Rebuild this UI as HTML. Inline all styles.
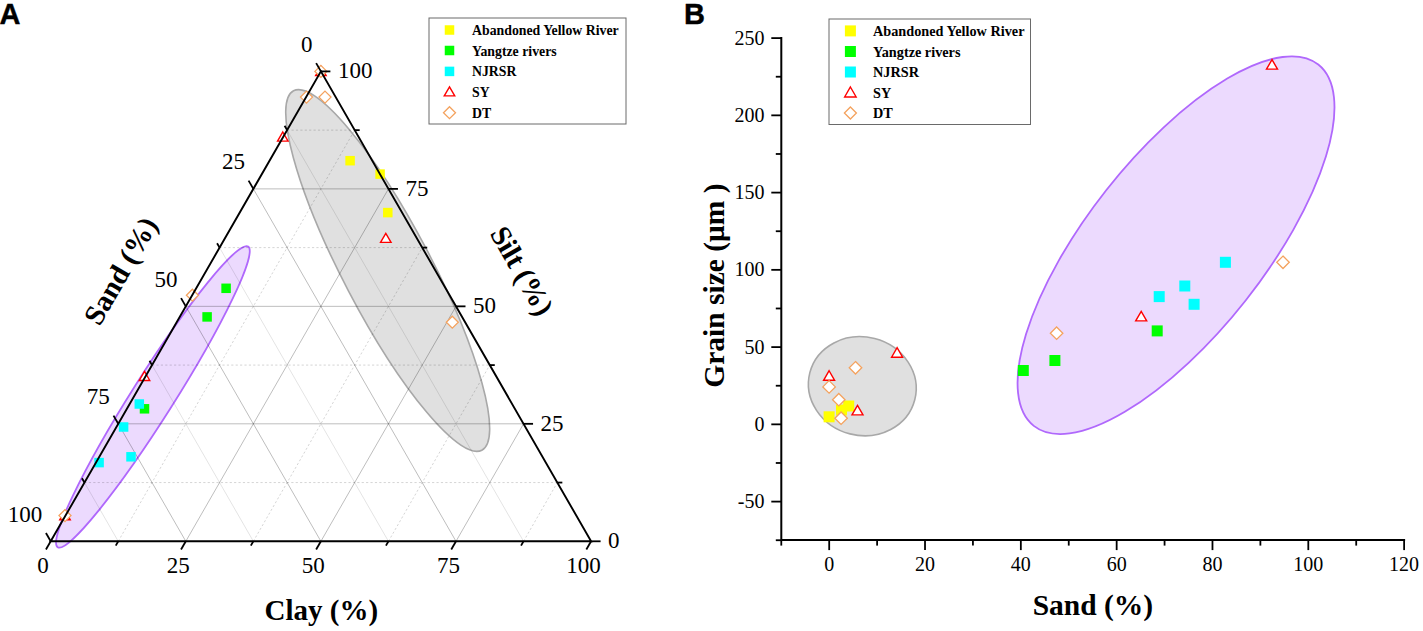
<!DOCTYPE html><html><head><meta charset="utf-8"><style>html,body{margin:0;padding:0;background:#fff;width:1423px;height:631px;overflow:hidden} svg{display:block} text{font-family:"Liberation Serif",serif}</style></head><body>
<svg width="1423" height="631" viewBox="0 0 1423 631">
<rect width="1423" height="631" fill="#fff"/>
<ellipse cx="387.7" cy="270.5" rx="202.85" ry="44.2" transform="rotate(62.34 387.7 270.5)" fill="#e0e0e0" stroke="#a8a8a8" stroke-width="1.6"/>
<ellipse cx="152.91" cy="396.87" rx="178.02" ry="20.99" transform="rotate(-57.67 152.91 396.87)" fill="#ecdafe" stroke="#b068fc" stroke-width="1.8"/>
<line x1="84.47" y1="482.56" x2="557.33" y2="482.56" stroke="rgba(0,0,0,0.17)" stroke-width="1" stroke-dasharray="2.2 2.2"/><line x1="118.25" y1="541.30" x2="354.67" y2="130.14" stroke="rgba(0,0,0,0.17)" stroke-width="1" stroke-dasharray="2.2 2.2"/><line x1="287.12" y1="130.14" x2="523.55" y2="541.30" stroke="rgba(0,0,0,0.11)" stroke-width="1"/>
<line x1="152.02" y1="365.09" x2="489.77" y2="365.09" stroke="rgba(0,0,0,0.17)" stroke-width="1" stroke-dasharray="2.2 2.2"/><line x1="253.35" y1="541.30" x2="422.23" y2="247.61" stroke="rgba(0,0,0,0.17)" stroke-width="1" stroke-dasharray="2.2 2.2"/><line x1="219.57" y1="247.61" x2="388.45" y2="541.30" stroke="rgba(0,0,0,0.11)" stroke-width="1"/>
<line x1="219.57" y1="247.61" x2="422.23" y2="247.61" stroke="rgba(0,0,0,0.17)" stroke-width="1" stroke-dasharray="2.2 2.2"/><line x1="388.45" y1="541.30" x2="489.77" y2="365.09" stroke="rgba(0,0,0,0.17)" stroke-width="1" stroke-dasharray="2.2 2.2"/><line x1="152.02" y1="365.09" x2="253.35" y2="541.30" stroke="rgba(0,0,0,0.11)" stroke-width="1"/>
<line x1="287.12" y1="130.14" x2="354.67" y2="130.14" stroke="rgba(0,0,0,0.17)" stroke-width="1" stroke-dasharray="2.2 2.2"/><line x1="523.55" y1="541.30" x2="557.33" y2="482.56" stroke="rgba(0,0,0,0.17)" stroke-width="1" stroke-dasharray="2.2 2.2"/><line x1="84.47" y1="482.56" x2="118.25" y2="541.30" stroke="rgba(0,0,0,0.11)" stroke-width="1"/>
<line x1="118.25" y1="423.82" x2="523.55" y2="423.82" stroke="rgba(0,0,0,0.26)" stroke-width="1"/><line x1="185.80" y1="541.30" x2="388.45" y2="188.88" stroke="rgba(0,0,0,0.26)" stroke-width="1"/><line x1="253.35" y1="188.88" x2="456.00" y2="541.30" stroke="rgba(0,0,0,0.26)" stroke-width="1"/>
<line x1="185.80" y1="306.35" x2="456.00" y2="306.35" stroke="rgba(0,0,0,0.26)" stroke-width="1"/><line x1="320.90" y1="541.30" x2="456.00" y2="306.35" stroke="rgba(0,0,0,0.26)" stroke-width="1"/><line x1="185.80" y1="306.35" x2="320.90" y2="541.30" stroke="rgba(0,0,0,0.26)" stroke-width="1"/>
<line x1="253.35" y1="188.88" x2="388.45" y2="188.88" stroke="rgba(0,0,0,0.26)" stroke-width="1"/><line x1="456.00" y1="541.30" x2="523.55" y2="423.82" stroke="rgba(0,0,0,0.26)" stroke-width="1"/><line x1="118.25" y1="423.82" x2="185.80" y2="541.30" stroke="rgba(0,0,0,0.26)" stroke-width="1"/>
<rect x="345.35" y="155.95" width="9.50" height="9.50" fill="#ffff00"/>
<rect x="375.35" y="169.35" width="9.50" height="9.50" fill="#ffff00"/>
<rect x="383.05" y="207.85" width="9.50" height="9.50" fill="#ffff00"/>
<rect x="221.35" y="283.55" width="9.50" height="9.50" fill="#00ff00"/>
<rect x="202.35" y="312.15" width="9.50" height="9.50" fill="#00ff00"/>
<rect x="139.75" y="404.05" width="9.50" height="9.50" fill="#00ff00"/>
<rect x="134.55" y="399.25" width="9.50" height="9.50" fill="#00ffff"/>
<rect x="118.85" y="422.25" width="9.50" height="9.50" fill="#00ffff"/>
<rect x="94.35" y="457.85" width="9.50" height="9.50" fill="#00ffff"/>
<rect x="126.25" y="452.05" width="9.50" height="9.50" fill="#00ffff"/>
<path d="M320.90 66.40 L326.15 75.49 L315.65 75.49 Z" fill="#fff" stroke="#ff0000" stroke-width="1.4" stroke-linejoin="miter"/>
<path d="M282.80 132.00 L288.05 141.09 L277.55 141.09 Z" fill="#fff" stroke="#ff0000" stroke-width="1.4" stroke-linejoin="miter"/>
<path d="M385.80 233.30 L391.05 242.39 L380.55 242.39 Z" fill="#fff" stroke="#ff0000" stroke-width="1.4" stroke-linejoin="miter"/>
<path d="M144.50 371.40 L149.75 380.49 L139.25 380.49 Z" fill="#fff" stroke="#ff0000" stroke-width="1.4" stroke-linejoin="miter"/>
<path d="M65.00 510.60 L70.25 519.69 L59.75 519.69 Z" fill="#fff" stroke="#ff0000" stroke-width="1.4" stroke-linejoin="miter"/>
<path d="M320.90 65.40 L326.90 71.40 L320.90 77.40 L314.90 71.40 Z" fill="#fff" stroke="#f4a25e" stroke-width="1.3"/>
<path d="M306.50 91.10 L312.50 97.10 L306.50 103.10 L300.50 97.10 Z" fill="#fff" stroke="#f4a25e" stroke-width="1.3"/>
<path d="M325.00 91.10 L331.00 97.10 L325.00 103.10 L319.00 97.10 Z" fill="#fff" stroke="#f4a25e" stroke-width="1.3"/>
<path d="M192.40 289.20 L198.40 295.20 L192.40 301.20 L186.40 295.20 Z" fill="#fff" stroke="#f4a25e" stroke-width="1.3"/>
<path d="M452.30 316.20 L458.30 322.20 L452.30 328.20 L446.30 322.20 Z" fill="#fff" stroke="#f4a25e" stroke-width="1.3"/>
<path d="M65.00 509.60 L71.00 515.60 L65.00 521.60 L59.00 515.60 Z" fill="#fff" stroke="#f4a25e" stroke-width="1.3"/>
<path d="M50.70 541.30 L320.90 71.40 L591.10 541.30 Z" fill="none" stroke="#000" stroke-width="1.9" stroke-linejoin="miter"/>
<line x1="50.70" y1="541.30" x2="45.95" y2="549.53" stroke="#000" stroke-width="1.8"/>
<line x1="320.90" y1="71.40" x2="316.15" y2="63.17" stroke="#000" stroke-width="1.8"/>
<line x1="591.10" y1="541.30" x2="600.60" y2="541.30" stroke="#000" stroke-width="1.8"/>
<line x1="118.25" y1="541.30" x2="115.75" y2="545.63" stroke="#000" stroke-width="1.8"/>
<line x1="287.12" y1="130.14" x2="284.62" y2="125.81" stroke="#000" stroke-width="1.8"/>
<line x1="557.33" y1="482.56" x2="562.33" y2="482.56" stroke="#000" stroke-width="1.8"/>
<line x1="185.80" y1="541.30" x2="181.05" y2="549.53" stroke="#000" stroke-width="1.8"/>
<line x1="253.35" y1="188.88" x2="248.60" y2="180.65" stroke="#000" stroke-width="1.8"/>
<line x1="523.55" y1="423.82" x2="533.05" y2="423.82" stroke="#000" stroke-width="1.8"/>
<line x1="253.35" y1="541.30" x2="250.85" y2="545.63" stroke="#000" stroke-width="1.8"/>
<line x1="219.57" y1="247.61" x2="217.07" y2="243.28" stroke="#000" stroke-width="1.8"/>
<line x1="489.77" y1="365.09" x2="494.77" y2="365.09" stroke="#000" stroke-width="1.8"/>
<line x1="320.90" y1="541.30" x2="316.15" y2="549.53" stroke="#000" stroke-width="1.8"/>
<line x1="185.80" y1="306.35" x2="181.05" y2="298.12" stroke="#000" stroke-width="1.8"/>
<line x1="456.00" y1="306.35" x2="465.50" y2="306.35" stroke="#000" stroke-width="1.8"/>
<line x1="388.45" y1="541.30" x2="385.95" y2="545.63" stroke="#000" stroke-width="1.8"/>
<line x1="152.02" y1="365.09" x2="149.52" y2="360.76" stroke="#000" stroke-width="1.8"/>
<line x1="422.23" y1="247.61" x2="427.23" y2="247.61" stroke="#000" stroke-width="1.8"/>
<line x1="456.00" y1="541.30" x2="451.25" y2="549.53" stroke="#000" stroke-width="1.8"/>
<line x1="118.25" y1="423.82" x2="113.50" y2="415.60" stroke="#000" stroke-width="1.8"/>
<line x1="388.45" y1="188.88" x2="397.95" y2="188.88" stroke="#000" stroke-width="1.8"/>
<line x1="523.55" y1="541.30" x2="521.05" y2="545.63" stroke="#000" stroke-width="1.8"/>
<line x1="84.47" y1="482.56" x2="81.97" y2="478.23" stroke="#000" stroke-width="1.8"/>
<line x1="354.67" y1="130.14" x2="359.67" y2="130.14" stroke="#000" stroke-width="1.8"/>
<line x1="591.10" y1="541.30" x2="586.35" y2="549.53" stroke="#000" stroke-width="1.8"/>
<line x1="50.70" y1="541.30" x2="45.95" y2="533.07" stroke="#000" stroke-width="1.8"/>
<line x1="320.90" y1="71.40" x2="330.40" y2="71.40" stroke="#000" stroke-width="1.8"/>
<text x="43.10" y="572.80" font-size="23" text-anchor="middle">0</text>
<text x="312.50" y="51.90" font-size="23" text-anchor="end">0</text>
<text x="608.10" y="548.10" font-size="23" text-anchor="start">0</text>
<text x="178.20" y="572.80" font-size="23" text-anchor="middle">25</text>
<text x="244.95" y="169.38" font-size="23" text-anchor="end">25</text>
<text x="540.55" y="430.62" font-size="23" text-anchor="start">25</text>
<text x="313.30" y="572.80" font-size="23" text-anchor="middle">50</text>
<text x="177.40" y="286.85" font-size="23" text-anchor="end">50</text>
<text x="473.00" y="313.15" font-size="23" text-anchor="start">50</text>
<text x="448.40" y="572.80" font-size="23" text-anchor="middle">75</text>
<text x="109.85" y="404.32" font-size="23" text-anchor="end">75</text>
<text x="405.45" y="195.68" font-size="23" text-anchor="start">75</text>
<text x="583.50" y="572.80" font-size="23" text-anchor="middle">100</text>
<text x="42.30" y="521.80" font-size="23" text-anchor="end">100</text>
<text x="337.90" y="78.20" font-size="23" text-anchor="start">100</text>
<text x="321.3" y="620" font-size="29" font-weight="bold" text-anchor="middle">Clay (%)</text>
<g transform="translate(120.4 270.65) rotate(-60)"><text x="0" y="10" font-size="29" font-weight="bold" text-anchor="middle">Sand (%)</text></g>
<g transform="translate(522.2 270.6) rotate(60)"><text x="0" y="10" font-size="29" font-weight="bold" text-anchor="middle">Silt (%)</text></g>
<text x="-0.5" y="23.7" font-size="29" font-weight="bold" stroke="#000" stroke-width="0.4" style="font-family:'Liberation Sans',sans-serif">A</text>
<text x="684" y="23.7" font-size="29" font-weight="bold" stroke="#000" stroke-width="0.4" style="font-family:'Liberation Sans',sans-serif">B</text>
<rect x="429.00" y="18.00" width="197.00" height="106.00" fill="#fff" stroke="#6a6a6a" stroke-width="1"/><rect x="444.75" y="25.25" width="9.50" height="9.50" fill="#ffff00"/><text x="472.00" y="35.00" font-size="13.8" font-weight="bold">Abandoned Yellow River</text><rect x="444.75" y="45.75" width="9.50" height="9.50" fill="#00ff00"/><text x="472.00" y="55.50" font-size="13.8" font-weight="bold">Yangtze rivers</text><rect x="444.75" y="66.65" width="9.50" height="9.50" fill="#00ffff"/><text x="472.00" y="76.40" font-size="13.8" font-weight="bold">NJRSR</text><path d="M449.50 86.80 L454.75 95.89 L444.25 95.89 Z" fill="#fff" stroke="#ff0000" stroke-width="1.4" stroke-linejoin="miter"/><text x="472.00" y="96.80" font-size="13.8" font-weight="bold">SY</text><path d="M449.50 106.70 L455.50 112.70 L449.50 118.70 L443.50 112.70 Z" fill="#fff" stroke="#f4a25e" stroke-width="1.3"/><text x="472.00" y="117.70" font-size="13.8" font-weight="bold">DT</text>
<rect x="829.00" y="19.00" width="201.50" height="105.50" fill="#fff" stroke="#6a6a6a" stroke-width="1"/><rect x="844.90" y="25.40" width="11.00" height="11.00" fill="#ffff00"/><text x="873.00" y="35.90" font-size="14.25" font-weight="bold">Abandoned Yellow River</text><rect x="844.90" y="46.00" width="11.00" height="11.00" fill="#00ff00"/><text x="873.00" y="56.50" font-size="14.25" font-weight="bold">Yangtze rivers</text><rect x="844.90" y="66.50" width="11.00" height="11.00" fill="#00ffff"/><text x="873.00" y="77.00" font-size="14.25" font-weight="bold">NJRSR</text><path d="M850.40 87.02 L856.15 96.98 L844.65 96.98 Z" fill="#fff" stroke="#ff0000" stroke-width="1.4" stroke-linejoin="miter"/><text x="873.00" y="97.50" font-size="14.25" font-weight="bold">SY</text><path d="M850.40 107.00 L856.40 113.00 L850.40 119.00 L844.40 113.00 Z" fill="#fff" stroke="#f4a25e" stroke-width="1.3"/><text x="873.00" y="118.00" font-size="14.25" font-weight="bold">DT</text>
<line x1="781.3" y1="540.1" x2="1405.1200000000001" y2="540.1" stroke="#000" stroke-width="2"/>
<line x1="781.3" y1="37.10000000000002" x2="781.3" y2="541.1" stroke="#000" stroke-width="2"/>
<line x1="781.29" y1="540.1" x2="781.29" y2="545.60" stroke="#000" stroke-width="1.8"/>
<line x1="829.20" y1="540.1" x2="829.20" y2="550.10" stroke="#000" stroke-width="1.8"/>
<text x="829.20" y="571.40" font-size="20" text-anchor="middle">0</text>
<line x1="877.11" y1="540.1" x2="877.11" y2="545.60" stroke="#000" stroke-width="1.8"/>
<line x1="925.02" y1="540.1" x2="925.02" y2="550.10" stroke="#000" stroke-width="1.8"/>
<text x="925.02" y="571.40" font-size="20" text-anchor="middle">20</text>
<line x1="972.93" y1="540.1" x2="972.93" y2="545.60" stroke="#000" stroke-width="1.8"/>
<line x1="1020.84" y1="540.1" x2="1020.84" y2="550.10" stroke="#000" stroke-width="1.8"/>
<text x="1020.84" y="571.40" font-size="20" text-anchor="middle">40</text>
<line x1="1068.75" y1="540.1" x2="1068.75" y2="545.60" stroke="#000" stroke-width="1.8"/>
<line x1="1116.66" y1="540.1" x2="1116.66" y2="550.10" stroke="#000" stroke-width="1.8"/>
<text x="1116.66" y="571.40" font-size="20" text-anchor="middle">60</text>
<line x1="1164.57" y1="540.1" x2="1164.57" y2="545.60" stroke="#000" stroke-width="1.8"/>
<line x1="1212.48" y1="540.1" x2="1212.48" y2="550.10" stroke="#000" stroke-width="1.8"/>
<text x="1212.48" y="571.40" font-size="20" text-anchor="middle">80</text>
<line x1="1260.39" y1="540.1" x2="1260.39" y2="545.60" stroke="#000" stroke-width="1.8"/>
<line x1="1308.30" y1="540.1" x2="1308.30" y2="550.10" stroke="#000" stroke-width="1.8"/>
<text x="1308.30" y="571.40" font-size="20" text-anchor="middle">100</text>
<line x1="1356.21" y1="540.1" x2="1356.21" y2="545.60" stroke="#000" stroke-width="1.8"/>
<line x1="1404.12" y1="540.1" x2="1404.12" y2="550.10" stroke="#000" stroke-width="1.8"/>
<text x="1404.12" y="571.40" font-size="20" text-anchor="middle">120</text>
<line x1="781.3" y1="540.23" x2="775.80" y2="540.23" stroke="#000" stroke-width="1.8"/>
<line x1="781.3" y1="501.60" x2="771.30" y2="501.60" stroke="#000" stroke-width="1.8"/>
<text x="764.5" y="508.00" font-size="20" text-anchor="end">-50</text>
<line x1="781.3" y1="462.98" x2="775.80" y2="462.98" stroke="#000" stroke-width="1.8"/>
<line x1="781.3" y1="424.35" x2="771.30" y2="424.35" stroke="#000" stroke-width="1.8"/>
<text x="764.5" y="430.75" font-size="20" text-anchor="end">0</text>
<line x1="781.3" y1="385.73" x2="775.80" y2="385.73" stroke="#000" stroke-width="1.8"/>
<line x1="781.3" y1="347.10" x2="771.30" y2="347.10" stroke="#000" stroke-width="1.8"/>
<text x="764.5" y="353.50" font-size="20" text-anchor="end">50</text>
<line x1="781.3" y1="308.48" x2="775.80" y2="308.48" stroke="#000" stroke-width="1.8"/>
<line x1="781.3" y1="269.85" x2="771.30" y2="269.85" stroke="#000" stroke-width="1.8"/>
<text x="764.5" y="276.25" font-size="20" text-anchor="end">100</text>
<line x1="781.3" y1="231.23" x2="775.80" y2="231.23" stroke="#000" stroke-width="1.8"/>
<line x1="781.3" y1="192.60" x2="771.30" y2="192.60" stroke="#000" stroke-width="1.8"/>
<text x="764.5" y="199.00" font-size="20" text-anchor="end">150</text>
<line x1="781.3" y1="153.98" x2="775.80" y2="153.98" stroke="#000" stroke-width="1.8"/>
<line x1="781.3" y1="115.35" x2="771.30" y2="115.35" stroke="#000" stroke-width="1.8"/>
<text x="764.5" y="121.75" font-size="20" text-anchor="end">200</text>
<line x1="781.3" y1="76.73" x2="775.80" y2="76.73" stroke="#000" stroke-width="1.8"/>
<line x1="781.3" y1="38.10" x2="771.30" y2="38.10" stroke="#000" stroke-width="1.8"/>
<text x="764.5" y="44.50" font-size="20" text-anchor="end">250</text>
<text x="1092.9" y="615" font-size="29.5" font-weight="bold" text-anchor="middle">Sand (%)</text>
<g transform="translate(724.2 285.6) rotate(-90)"><text x="0" y="0" font-size="29.5" font-weight="bold" text-anchor="middle">Grain size (μm )</text></g>
<ellipse cx="862.31" cy="386.23" rx="54.18" ry="49.22" transform="rotate(14.5 862.31 386.23)" fill="#e0e0e0" stroke="#a8a8a8" stroke-width="1.6"/>
<ellipse cx="1176.02" cy="245.2" rx="229.92" ry="88.87" transform="rotate(-51.78 1176.02 245.2)" fill="#ecdafe" stroke="#b068fc" stroke-width="1.8"/>
<rect x="823.60" y="411.30" width="11.00" height="11.00" fill="#ffff00"/>
<rect x="836.00" y="404.50" width="11.00" height="11.00" fill="#ffff00"/>
<rect x="843.20" y="400.50" width="11.00" height="11.00" fill="#ffff00"/>
<rect x="1017.80" y="365.00" width="11.00" height="11.00" fill="#00ff00"/>
<rect x="1049.40" y="355.00" width="11.00" height="11.00" fill="#00ff00"/>
<rect x="1151.70" y="325.40" width="11.00" height="11.00" fill="#00ff00"/>
<rect x="1153.70" y="291.10" width="11.00" height="11.00" fill="#00ffff"/>
<rect x="1179.30" y="280.50" width="11.00" height="11.00" fill="#00ffff"/>
<rect x="1188.60" y="298.80" width="11.00" height="11.00" fill="#00ffff"/>
<rect x="1219.90" y="256.80" width="11.00" height="11.00" fill="#00ffff"/>
<path d="M829.10 370.76 L834.60 380.29 L823.60 380.29 Z" fill="#fff" stroke="#ff0000" stroke-width="1.4" stroke-linejoin="miter"/>
<path d="M897.10 347.66 L902.60 357.19 L891.60 357.19 Z" fill="#fff" stroke="#ff0000" stroke-width="1.4" stroke-linejoin="miter"/>
<path d="M857.50 405.36 L863.00 414.89 L852.00 414.89 Z" fill="#fff" stroke="#ff0000" stroke-width="1.4" stroke-linejoin="miter"/>
<path d="M1141.20 311.36 L1146.70 320.89 L1135.70 320.89 Z" fill="#fff" stroke="#ff0000" stroke-width="1.4" stroke-linejoin="miter"/>
<path d="M1272.00 59.56 L1277.50 69.09 L1266.50 69.09 Z" fill="#fff" stroke="#ff0000" stroke-width="1.4" stroke-linejoin="miter"/>
<path d="M829.10 380.65 L835.35 386.90 L829.10 393.15 L822.85 386.90 Z" fill="#fff" stroke="#f4a25e" stroke-width="1.3"/>
<path d="M855.50 361.55 L861.75 367.80 L855.50 374.05 L849.25 367.80 Z" fill="#fff" stroke="#f4a25e" stroke-width="1.3"/>
<path d="M838.80 393.45 L845.05 399.70 L838.80 405.95 L832.55 399.70 Z" fill="#fff" stroke="#f4a25e" stroke-width="1.3"/>
<path d="M841.10 411.95 L847.35 418.20 L841.10 424.45 L834.85 418.20 Z" fill="#fff" stroke="#f4a25e" stroke-width="1.3"/>
<path d="M1056.60 326.95 L1062.85 333.20 L1056.60 339.45 L1050.35 333.20 Z" fill="#fff" stroke="#f4a25e" stroke-width="1.3"/>
<path d="M1283.00 256.05 L1289.25 262.30 L1283.00 268.55 L1276.75 262.30 Z" fill="#fff" stroke="#f4a25e" stroke-width="1.3"/>
</svg></body></html>
